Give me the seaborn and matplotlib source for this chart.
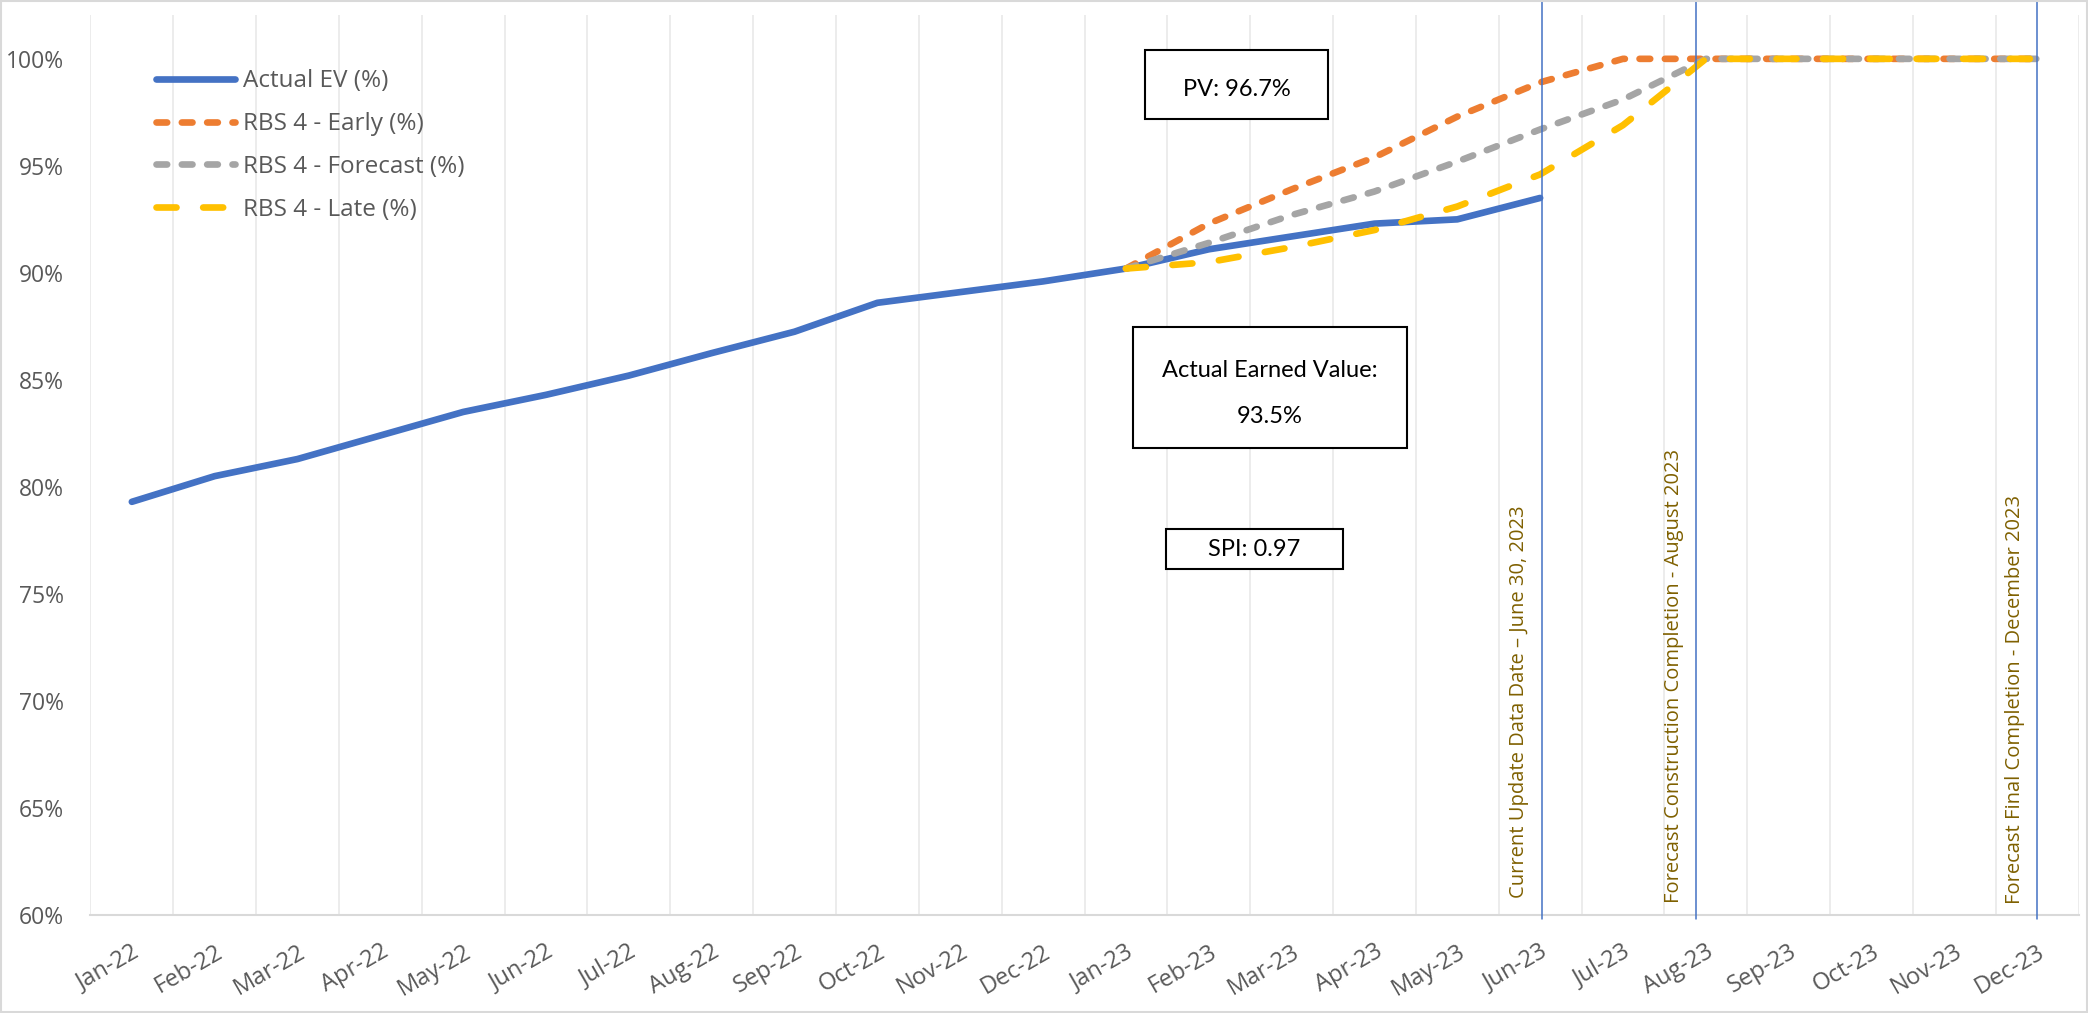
import numpy as np
import pandas as pd
import matplotlib
matplotlib.use("Agg")
import matplotlib.pyplot as plt
from matplotlib.patches import Rectangle
import seaborn as sns

# --- data ---
months = ["Jan-22", "Feb-22", "Mar-22", "Apr-22", "May-22", "Jun-22", "Jul-22", "Aug-22",
          "Sep-22", "Oct-22", "Nov-22", "Dec-22", "Jan-23", "Feb-23", "Mar-23", "Apr-23",
          "May-23", "Jun-23", "Jul-23", "Aug-23", "Sep-23", "Oct-23", "Nov-23", "Dec-23"]
actual_ev = [79.3, 80.5, 81.3, 82.4, 83.5, 84.3, 85.2, 86.25, 87.25, 88.6, 89.1, 89.6,
             90.2, 91.1, 91.7, 92.3, 92.5, 93.5]
rbs_early = [90.2, 92.3, 93.9, 95.4, 97.3, 98.9, 100, 100, 100, 100, 100, 100]
rbs_forecast = [90.2, 91.4, 92.7, 93.8, 95.2, 96.7, 98.1, 100, 100, 100, 100, 100]
rbs_late = [90.2, 90.5, 91.2, 92.0, 93.1, 94.6, 96.9, 100, 100, 100, 100, 100]
plan_start = 12  # Jan-23

milestones = ["Current Update Data Date \u2013 June 30, 2023",
              "Forecast Construction Completion - August 2023",
              "Forecast Final Completion - December 2023"]
milestone_pos = [17.02, 18.88, 23.0]
label_bottom = [60.78, 60.55, 60.5]

BLUE = "#4472C4"
ORANGE = "#ED7D31"
GRAY = "#A5A5A5"
YELLOW = "#FFC000"
OLIVE = "#7F6000"
TXT = "#595959"

sns.set_style("white")
plt.rcParams["font.family"] = ["Open Sans", "DejaVu Sans"]

fig = plt.figure(figsize=(20.88, 10.13), dpi=100)
ax = fig.add_axes([0.0433, 0.0969, 0.9522, 0.8881])

x_act = np.arange(len(actual_ev))
x_plan = np.arange(plan_start, plan_start + len(rbs_early))

lw = 4.8
sns.lineplot(x=x_act, y=actual_ev, ax=ax, color=BLUE, lw=lw, label="Actual EV (%)",
             solid_capstyle="round", solid_joinstyle="round")
sns.lineplot(x=x_plan, y=rbs_early, ax=ax, color=ORANGE, lw=lw, label="RBS 4 - Early (%)",
             linestyle=(0, (1.6, 2.2)), dash_capstyle="round")
sns.lineplot(x=x_plan, y=rbs_forecast, ax=ax, color=GRAY, lw=lw, label="RBS 4 - Forecast (%)",
             linestyle=(0, (1.6, 2.2)), dash_capstyle="round")
sns.lineplot(x=x_plan, y=rbs_late, ax=ax, color=YELLOW, lw=lw, label="RBS 4 - Late (%)",
             linestyle=(0, (3.0, 4.0)), dash_capstyle="round")

ax.set_xlim(-0.5, len(months) - 0.5)
ax.set_ylim(60, 102.04)
ax.set_yticks(range(60, 101, 5))
ax.set_yticklabels([f"{v}%" for v in range(60, 101, 5)])
ax.set_xticks(range(len(months)))
ax.set_xticklabels(months, rotation=30, ha="right", va="top", rotation_mode="anchor")
ax.set_xticks(np.arange(-0.5, len(months), 1), minor=True)
ax.grid(False)
ax.grid(True, which="minor", axis="x", color="#EBEBEB", lw=1.3)
ax.tick_params(axis="both", which="both", length=0)
ax.tick_params(axis="y", labelsize=16.5, colors=TXT, pad=19)
ax.tick_params(axis="x", labelsize=17, colors=TXT, pad=18)
for s in ["left", "right", "top"]:
    ax.spines[s].set_visible(False)
ax.spines["bottom"].set_color("#D9D9D9")
ax.spines["bottom"].set_linewidth(1.5)
ax.set_xlabel("")
ax.set_ylabel("")

# milestone lines and labels
for pos, txt, yb in zip(milestone_pos, milestones, label_bottom):
    ax.plot([pos, pos], [59.8, 102.8], color=BLUE, lw=1.1, clip_on=False, zorder=5)
    ax.text(pos - 0.27, yb, txt, rotation=90, ha="center", va="bottom",
            color=OLIVE, fontsize=14.5)

leg = ax.legend(loc="upper left", bbox_to_anchor=(0.022, 0.964), frameon=False,
                fontsize=17.5, handlelength=3.25, labelspacing=0.77, handletextpad=0.33)
for t in leg.get_texts():
    t.set_color(TXT)

# annotation boxes (figure coords)
boxes = [
    ((0.5484, 0.8825), 0.0876, 0.0681, ["PV: 96.7%"], [0.9112]),
    ((0.5426, 0.5578), 0.1312, 0.1194, ["Actual Earned Value:", "93.5%"], [0.6347, 0.5884]),
    ((0.5584, 0.4383), 0.0848, 0.0395, ["SPI: 0.97"], [0.4571]),
]
for (x0, y0), w, h, lines, ys in boxes:
    fig.add_artist(Rectangle((x0, y0), w, h, transform=fig.transFigure, fill=True,
                             facecolor="white", edgecolor="black", lw=1.5, zorder=6))
    for line, yy in zip(lines, ys):
        fig.text(x0 + w / 2, yy, line, ha="center", va="center", fontsize=17,
                 color="black", family=["Lato", "DejaVu Sans"], zorder=7)

fig.add_artist(Rectangle((0.0005, 0.001), 0.999, 0.998, transform=fig.transFigure,
                         fill=False, edgecolor="#D9D9D9", lw=1.5))

fig.savefig("out.png", dpi=100)
